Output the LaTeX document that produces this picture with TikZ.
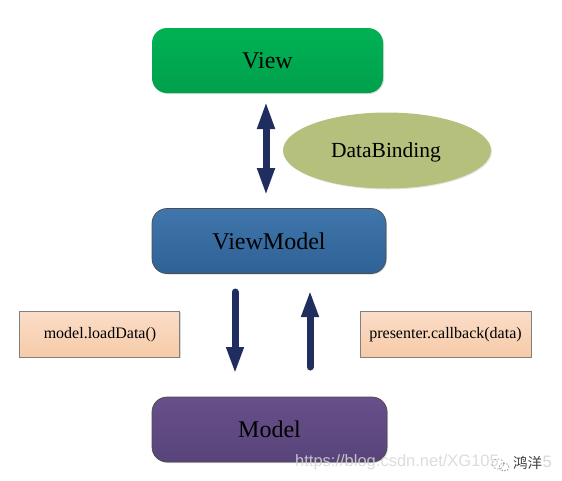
\documentclass[tikz,border=0pt]{standalone}
\usepackage{fontspec}
\setmainfont{Liberation Serif}
\setsansfont{Liberation Sans}
\newfontfamily\cjk{Noto Sans CJK SC}
\usetikzlibrary{arrows.meta,shadows,shapes.geometric}
\definecolor{arrowblue}{HTML}{1F2E5E}
\definecolor{notetop}{HTML}{FBDDC8}
\definecolor{notebot}{HTML}{F6CBA8}
\tikzset{
  softshadow/.style={drop shadow={shadow xshift=1pt, shadow yshift=-1pt, fill=black!30, opacity=.5}},
  layerbox/.style={line width=0.7pt, rounded corners=15pt, minimum height=65pt, inner sep=0pt,
    softshadow, font=\fontsize{24}{28}\selectfont},
  notebox/.style={draw=black!50, line width=0.7pt, minimum height=46pt, inner sep=0pt,
    top color=notetop, bottom color=notebot, softshadow, font=\fontsize{16}{20}\selectfont},
  flow/.style={line width=7pt, arrowblue},
  flowhead/.style={-{Triangle[length=27pt, width=16pt]}},
}
\begin{document}
\begin{tikzpicture}[x=1pt, y=-1pt]
    \useasboundingbox (0,0) rectangle (562,480);
    % 三层
    \node[layerbox, minimum width=231pt,
      top color={rgb,255:red,0;green,178;blue,84}, bottom color={rgb,255:red,0;green,160;blue,76}] (view) at (267.5,60.5) {View};
    \node[layerbox, draw=black!70, minimum width=234pt,
      top color={rgb,255:red,64;green,118;blue,172}, bottom color={rgb,255:red,47;green,98;blue,150}] (viewmodel) at (269,241) {ViewModel};
    \node[layerbox, draw=black!70, minimum width=235pt,
      top color={rgb,255:red,104;green,80;blue,138}, bottom color={rgb,255:red,88;green,68;blue,122}] (model) at (269.5,429.5) {Model};
    % 椭圆
    \node[ellipse, minimum width=208pt, minimum height=76pt, inner sep=0pt,
      fill={rgb,255:red,180;green,192;blue,124},
      drop shadow={shadow xshift=1pt, shadow yshift=-1pt, fill=black!20, opacity=.5}] (binding) at (387,150.5) {};
    \node[font=\fontsize{21.5}{26}\selectfont] (bindtext) at (386,152) {DataBinding};
    % 说明框
    \node[notebox, minimum width=160pt] (load) at (99.5,334) {};
    \node[font=\fontsize{16}{20}\selectfont] (loadtext) at (100,335) {model.loadData()};
    \node[notebox, minimum width=171pt] (callback) at (445.5,334) {};
    \node[font=\fontsize{16}{20}\selectfont] (callbacktext) at (445.5,335) {presenter.callback(data)};
    % 箭头
    \coordinate (bindtop) at (266,101);
    \coordinate (bindbot) at (266,196);
    \coordinate (downtop) at (235,292);
    \coordinate (downbot) at (235,374);
    \coordinate (uptop) at (310,290);
    \coordinate (upbot) at (310,367);
    \draw[flow, {Triangle[length=28pt, width=16pt]}-{Triangle[length=28pt, width=16pt]}] (bindtop) -- (bindbot);
    \draw[flow, line cap=round, flowhead] (downtop) -- (downbot);
    \draw[flow, line cap=round, flowhead] (upbot) -- (uptop);
    % 水印
    \node[font=\sffamily\fontsize{16.5}{20}\selectfont, text=black!16, opacity=.85, anchor=west, inner sep=0pt] (mark) at (295,462) {https://blog.csdn.net/XG105};
    \node[font=\sffamily\fontsize{16.5}{20}\selectfont, text=black!16, anchor=east, inner sep=0pt] (markend) at (552,462) {5};
    \draw[black!35, line width=.7pt, dash pattern=on 2pt off 1.5pt] (498,464) ellipse (6pt and 5pt);
    \draw[black!55, line width=.6pt, dash pattern=on 1.5pt off 1.5pt] (504,467) ellipse (5pt and 4pt);
    \node[font=\cjk\fontsize{14.5}{16}\selectfont, text=black!75, anchor=west, inner sep=0pt] (author) at (513,463) {鸿洋};
\end{tikzpicture}
\end{document}
